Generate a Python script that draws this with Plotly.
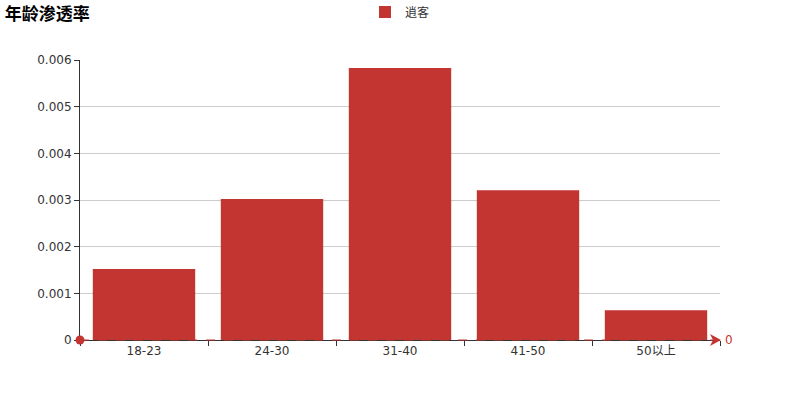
import plotly.graph_objects as go

categories = ["18-23", "24-30", "31-40", "41-50", "50以上"]
values = [0.00152, 0.00302, 0.00583, 0.00321, 0.00064]
series_name = "逍客"
title_text = "年龄渗透率"
mark_value = 0
y_range = [0, 0.006]

RED = "#c23531"
FONT = "DejaVu Sans, Noto Sans CJK SC, sans-serif"

fig = go.Figure()
fig.add_trace(go.Bar(
    x=categories, y=values, name=series_name, showlegend=True,
    marker=dict(color=RED, line=dict(width=0)),
))

n = len(categories)
# position of the markLine value as a fraction of the plot height
mark_frac = (mark_value - y_range[0]) / (y_range[1] - y_range[0])

# markLine at y = mark_value: dashed line, circle at start, arrow at end
fig.add_shape(type="line", xref="paper", x0=0, x1=1, yref="paper",
              y0=mark_frac, y1=mark_frac, layer="above",
              line=dict(color=RED, width=1, dash="dash"))
fig.add_shape(type="circle", xref="paper", xsizemode="pixel", xanchor=0,
              x0=-4.5, x1=4.5, yref="paper", ysizemode="pixel", yanchor=mark_frac,
              y0=-4.5, y1=4.5, layer="above",
              fillcolor=RED, line=dict(width=0))
fig.add_shape(type="path", xref="paper", xsizemode="pixel", xanchor=1,
              yref="paper", ysizemode="pixel", yanchor=mark_frac,
              path="M -10,-6 L 1,0 L -10,6 L -7,0 Z", layer="above",
              fillcolor=RED, line=dict(width=0))

fig.add_annotation(
    x=1, xref="paper", y=mark_frac, yref="paper", xanchor="left", yanchor="middle",
    text=str(mark_value), showarrow=False, xshift=3,
    font=dict(color=RED, size=12, family=FONT),
)

fig.update_layout(
    width=800, height=400,
    margin=dict(l=80, r=80, t=60, b=60, autoexpand=False),
    paper_bgcolor="white", plot_bgcolor="white",
    font=dict(family=FONT, size=12, color="#333"),
    showlegend=True,
    title=dict(text="<b>" + title_text + "</b>", x=0.006, xanchor="left",
               y=0.965, yanchor="middle",
               font=dict(size=17, color="#000", family="Noto Sans CJK SC, sans-serif")),
    legend=dict(orientation="h", x=0.5, xanchor="center", y=0.97, yanchor="middle",
                yref="container",
                font=dict(size=12, color="#333", family="Noto Sans CJK SC, sans-serif")),
    bargap=0.2,
    xaxis=dict(
        type="category", showline=True, linecolor="#333", linewidth=1,
        ticks="outside", ticklen=5, tickcolor="#333", tickson="boundaries",
        showgrid=False, range=[-0.5, n - 0.5],
        tickfont=dict(size=12, color="#333"),
    ),
    yaxis=dict(
        range=y_range, dtick=0.001, showline=True, linecolor="#333", linewidth=1,
        ticks="outside", ticklen=5, tickcolor="#333",
        showgrid=True, gridcolor="#ccc", zeroline=False,
        tickfont=dict(size=12, color="#333"),
    ),
)

fig.write_html("out.html", post_script="document.body.style.margin='0';",
               config={"displayModeBar": False})
